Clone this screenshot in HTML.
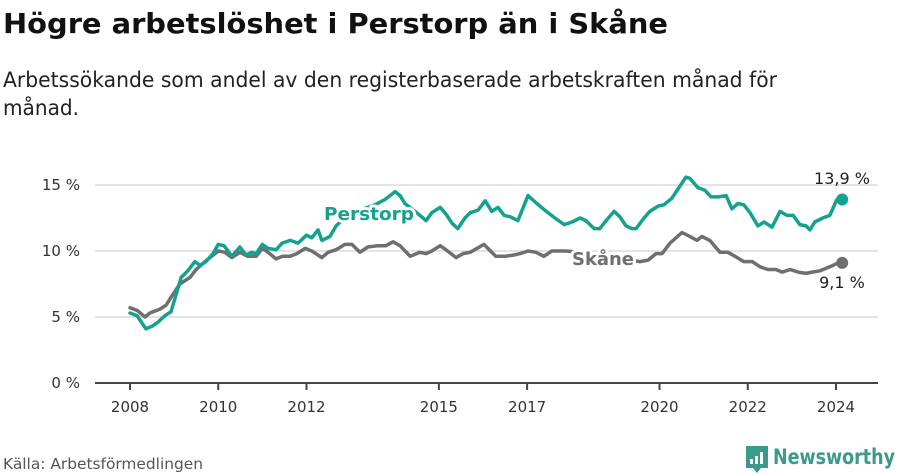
<!DOCTYPE html>
<html><head><meta charset="utf-8"><style>
html,body{margin:0;padding:0;background:#fff;}
svg{display:block;font-family:"DejaVu Sans","Liberation Sans",sans-serif;}
</style></head><body>
<svg id="chart" width="900" height="474" viewBox="0 0 900 474" xmlns="http://www.w3.org/2000/svg">
<text x="3" y="33" font-size="28" font-weight="bold" fill="#111" textLength="665" lengthAdjust="spacingAndGlyphs">Högre arbetslöshet i Perstorp än i Skåne</text>
<text x="3" y="87" font-size="21" fill="#222" textLength="774" lengthAdjust="spacingAndGlyphs">Arbetssökande som andel av den registerbaserade arbetskraften månad för</text>
<text x="3" y="115" font-size="21" fill="#222" textLength="76" lengthAdjust="spacingAndGlyphs">månad.</text>
<g id="grid"></g><g id="axes"></g><g id="series"></g><g id="labels"></g>
<text x="3" y="469" font-size="15" fill="#555" textLength="200" lengthAdjust="spacingAndGlyphs">Källa: Arbetsförmedlingen</text>
<g>
<path d="M746 446 h22 v22 h-7 l-4 5 l-4 -5 h-7 z" fill="#3a9a8c"/>
<rect x="750" y="459" width="3" height="5" fill="#fff"/><rect x="755" y="456" width="3" height="8" fill="#fff"/><rect x="760" y="452" width="3" height="12" fill="#fff"/>
<text x="773" y="464" font-size="21" font-weight="bold" fill="#3a9a8c" textLength="122" lengthAdjust="spacingAndGlyphs">Newsworthy</text>
</g>
</svg>
<script>
const yTicks=[0,5,10,15];
const xTickYears=[2008,2010,2012,2015,2017,2020,2022,2024];
const perstorpDates=[2008.00,2008.16,2008.36,2008.50,2008.63,2008.79,2008.93,2009.16,2009.31,2009.47,2009.59,2009.72,2009.88,2010.00,2010.13,2010.31,2010.49,2010.63,2010.76,2010.86,2011.00,2011.13,2011.31,2011.45,2011.63,2011.81,2012.00,2012.12,2012.26,2012.35,2012.53,2012.67,2012.80,2012.99,2013.21,2013.55,2013.78,2014.01,2014.12,2014.23,2014.46,2014.57,2014.71,2014.84,2015.03,2015.16,2015.30,2015.43,2015.59,2015.71,2015.89,2016.05,2016.20,2016.34,2016.48,2016.61,2016.79,2017.02,2017.22,2017.40,2017.63,2017.84,2018.02,2018.20,2018.33,2018.52,2018.65,2018.79,2018.97,2019.10,2019.24,2019.38,2019.47,2019.65,2019.78,2019.97,2020.10,2020.28,2020.42,2020.60,2020.69,2020.87,2021.03,2021.17,2021.33,2021.51,2021.64,2021.78,2021.91,2022.05,2022.23,2022.37,2022.55,2022.73,2022.89,2023.03,2023.18,2023.32,2023.41,2023.52,2023.70,2023.86,2024.02,2024.14];
const perstorpValues=[5.3,5.1,4.1,4.3,4.6,5.1,5.4,8.0,8.5,9.2,8.9,9.2,9.8,10.5,10.4,9.6,10.3,9.7,9.9,9.8,10.5,10.2,10.1,10.6,10.8,10.6,11.2,11.0,11.6,10.8,11.1,11.9,12.3,12.7,13.1,13.5,13.9,14.5,14.2,13.6,13.0,12.7,12.3,12.9,13.3,12.8,12.1,11.7,12.5,12.9,13.1,13.8,13.0,13.3,12.7,12.6,12.3,14.2,13.6,13.1,12.5,12.0,12.2,12.5,12.3,11.7,11.7,12.3,13.0,12.6,11.9,11.7,11.7,12.5,13.0,13.4,13.5,14.0,14.7,15.6,15.5,14.8,14.6,14.1,14.1,14.2,13.2,13.6,13.5,12.9,11.9,12.2,11.8,13.0,12.7,12.7,12.0,11.9,11.6,12.2,12.5,12.7,13.9,13.9];
const skaneDates=[2008.00,2008.16,2008.34,2008.45,2008.68,2008.82,2008.95,2009.13,2009.27,2009.36,2009.50,2009.63,2009.81,2010.00,2010.15,2010.31,2010.49,2010.67,2010.86,2011.00,2011.13,2011.31,2011.45,2011.63,2011.78,2011.97,2012.12,2012.35,2012.49,2012.67,2012.87,2013.03,2013.21,2013.39,2013.62,2013.80,2013.96,2014.12,2014.35,2014.57,2014.71,2014.84,2015.03,2015.16,2015.39,2015.55,2015.71,2016.02,2016.29,2016.50,2016.70,2016.84,2017.02,2017.20,2017.38,2017.56,2017.88,2018.20,2018.65,2019.10,2019.56,2019.74,2019.92,2020.06,2020.24,2020.51,2020.69,2020.85,2020.96,2021.14,2021.37,2021.55,2021.76,2021.91,2022.10,2022.28,2022.46,2022.64,2022.78,2022.96,2023.14,2023.32,2023.46,2023.64,2023.86,2024.05,2024.14];
const skaneValues=[5.7,5.5,5.0,5.3,5.6,5.9,6.6,7.5,7.8,8.0,8.6,9.0,9.5,10.0,9.9,9.5,9.9,9.6,9.6,10.2,9.9,9.4,9.6,9.6,9.8,10.2,10.0,9.5,9.9,10.1,10.5,10.5,9.9,10.3,10.4,10.4,10.7,10.4,9.6,9.9,9.8,10.0,10.4,10.1,9.5,9.8,9.9,10.5,9.6,9.6,9.7,9.8,10.0,9.9,9.6,10.0,10.0,9.9,9.6,9.4,9.2,9.3,9.8,9.8,10.6,11.4,11.1,10.8,11.1,10.8,9.9,9.9,9.5,9.2,9.2,8.8,8.6,8.6,8.4,8.6,8.4,8.3,8.4,8.5,8.8,9.1,9.1];
const NS="http://www.w3.org/2000/svg";
function xS(t){return 130+(t-2008)*44.125;}
function yS(v){return 383-v*13.2;}
function mk(tag,attrs,parent){const e=document.createElementNS(NS,tag);for(const k in attrs)e.setAttribute(k,attrs[k]);document.getElementById(parent).appendChild(e);return e;}
yTicks.forEach(v=>{
  if(v>0){const g=mk('line',{x1:95,x2:878,y1:yS(v),y2:yS(v),stroke:'#dcdcdc','stroke-width':1.5},'grid');
  
  }
  const t=mk('text',{x:80,y:yS(v)+5,'font-size':15,fill:'#333','text-anchor':'end'},'axes');
  t.textContent=v+' %';
  
  
});
const ax=mk('line',{x1:95,x2:878,y1:383,y2:383,stroke:'#444','stroke-width':2},'axes');


xTickYears.forEach(y=>{
  const tk=mk('line',{x1:xS(y),x2:xS(y),y1:383,y2:390,stroke:'#444','stroke-width':2},'axes');
  
  
  const t=mk('text',{x:xS(y),y:412,'font-size':15,fill:'#333','text-anchor':'middle'},'axes');
  t.textContent=y;
  
  
});
function drawLine(dates,vals,color,name){
  const d=dates.map((t,i)=>(i?'L':'M')+xS(t).toFixed(1)+' '+yS(vals[i]).toFixed(1)).join(' ');
  const p=mk('path',{d:d,fill:'none',stroke:color,'stroke-width':3.5,'stroke-linejoin':'round','stroke-linecap':'round'},'series');
  
  
  const n=dates.length-1;
  const c=mk('circle',{cx:xS(dates[n]),cy:yS(vals[n]),r:6,fill:color},'series');
  
  
}
drawLine(skaneDates,skaneValues,'#6f6f6f','skane');
drawLine(perstorpDates,perstorpValues,'#14a190','perstorp');
function label(txt,x,y,color,name,w){
  const t=mk('text',{x:x,y:y,'font-size':18,'font-weight':'bold',fill:color,stroke:'#fff','stroke-width':6,'paint-order':'stroke','stroke-linejoin':'round',textLength:w,lengthAdjust:'spacingAndGlyphs'},'labels');
  t.textContent=txt;
  
  
}
label('Perstorp',324,220,'#14a190','perstorp-series-label',90);
label('Skåne',572,265,'#6f6f6f','skane-series-label',62);
function endLab(txt,x,y,name){
  const t=mk('text',{x:x,y:y,'font-size':16,fill:'#222','text-anchor':'middle'},'labels');
  t.textContent=txt;
  
  
}
endLab('13,9 %',842,184,'perstorp-end-value');
endLab('9,1 %',842,288,'skane-end-value');
</script>
</body></html>
